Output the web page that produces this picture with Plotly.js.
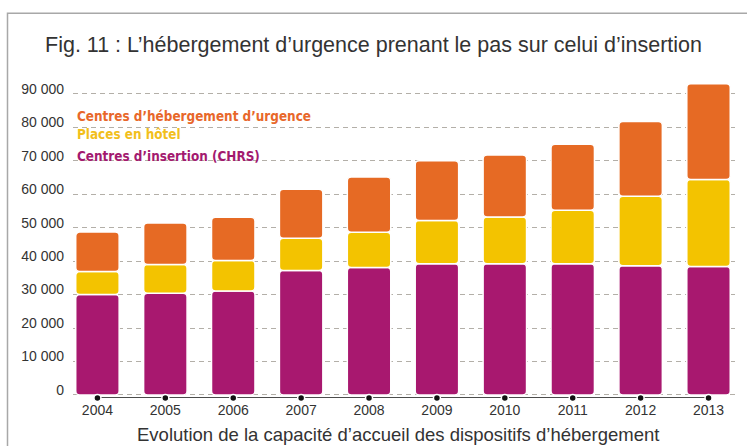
<!DOCTYPE html>
<html>
<head>
<meta charset="utf-8">
<script src="https://cdn.plot.ly/plotly-3.0.1.min.js"></script>
<style>html,body{margin:0;padding:0;background:#fff;}#chart{width:747px;height:446px;}</style>
</head>
<body>
<div id="chart"></div>
<script>
const years = ['2004','2005','2006','2007','2008','2009','2010','2011','2012','2013'];
const chrs = [30000, 30400, 31100, 37200, 38100, 39200, 39200, 39200, 38600, 38400];
const hotel = [6900, 8600, 9100, 9600, 10500, 12900, 14000, 16000, 20800, 26000];
const urgence = [11800, 12400, 12900, 14700, 16500, 17900, 18500, 19700, 22300, 28600];
const seriesNames = ["Centres d’hébergement d’urgence", "Places en hôtel", "Centres d’insertion (CHRS)"];
const yTicks = [0, 10000, 20000, 30000, 40000, 50000, 60000, 70000, 80000, 90000];

const cPurple = '#A8186F', cYellow = '#F3C300', cOrange = '#E66A24';
const base2 = chrs.slice();
const base3 = chrs.map((v, i) => v + hotel[i]);

function barTrace(y, base, color, name) {
  return {type: 'bar', x: years, y: y, base: base, name: name,
    marker: {color: color, cornerradius: 4, line: {color: '#ffffff', width: 1.5}},
    hoverinfo: 'skip'};
}
const traces = [
  barTrace(chrs, years.map(() => 0), cPurple, seriesNames[2]),
  barTrace(hotel, base2, cYellow, seriesNames[1]),
  barTrace(urgence, base3, cOrange, seriesNames[0]),
  {type: 'scatter', mode: 'lines+markers', x: years, y: years.map(() => -900),
   line: {color: '#111', width: 1.5},
   marker: {color: '#111', size: 7, line: {color: '#fff', width: 1.5}},
   cliponaxis: false, hoverinfo: 'skip', showlegend: false}
];

const F = 'Liberation Sans, Arial, sans-serif';
const FL = 'DejaVu Sans Condensed, Liberation Sans Narrow, sans-serif';
const layout = {
  width: 747, height: 446,
  margin: {l: 73, r: 12, t: 77, b: 48},
  paper_bgcolor: '#fff', plot_bgcolor: '#fff',
  separators: ', ',
  barmode: 'overlay', bargap: 0.36,
  showlegend: false,
  title: {text: 'Fig. 11 : L’hébergement d’urgence prenant le pas sur celui d’insertion',
    font: {family: F, size: 21.5, color: '#333'}, x: 0.5, xanchor: 'center',
    y: 1 - 44/446, yref: 'container', yanchor: 'middle'},
  xaxis: {type: 'category', range: [-0.36, 9.39], showgrid: false, zeroline: false, showline: false,
    ticks: '', tickfont: {family: F, size: 14, color: '#333'}, ticklabelstandoff: 2, fixedrange: true},
  yaxis: {range: [-900, 95000], tickvals: yTicks, tickformat: ',d', showgrid: true,
    gridcolor: '#b3afa8', griddash: '5px,4px', gridwidth: 1, zeroline: false, showline: false,
    ticks: '', tickfont: {family: F, size: 14, color: '#333'}, ticklabelstandoff: 8, ticklabelshift: -5},
  annotations: [
    {text: seriesNames[0], xref: 'paper', yref: 'paper', x: 0.003, y: (397-116)/320,
     xanchor: 'left', yanchor: 'middle', showarrow: false, font: {family: FL, size: 13.4, weight: 'bold', color: '#E8672A'}},
    {text: seriesNames[1], xref: 'paper', yref: 'paper', x: 0.003, y: (397-134)/320,
     xanchor: 'left', yanchor: 'middle', showarrow: false, font: {family: FL, size: 13.4, weight: 'bold', color: '#F2BF1C'}},
    {text: seriesNames[2], xref: 'paper', yref: 'paper', x: 0.003, y: (397-156)/320,
     xanchor: 'left', yanchor: 'middle', showarrow: false, font: {family: FL, size: 13.4, weight: 'bold', color: '#A3196F'}},
    {text: 'Evolution de la capacité d’accueil des dispositifs d’hébergement', xref: 'paper', yref: 'paper',
     x: (398-73)/662, y: (397-433)/320, xanchor: 'center', yanchor: 'middle', showarrow: false,
     font: {family: F, size: 18.5, color: '#333'}}
  ],
  shapes: [
    {type: 'path', xref: 'paper', yref: 'paper',
     path: 'M ' + ((7.5-73)/662) + ' ' + ((397-450)/320) + ' L ' + ((7.5-73)/662) + ' ' + ((397-13.5)/320) +
           ' L ' + ((750-73)/662) + ' ' + ((397-13.5)/320),
     line: {color: '#a8a8a8', width: 1.5}, layer: 'below'}
  ]
};
Plotly.newPlot('chart', traces, layout, {displayModeBar: false, staticPlot: true});
</script>
</body>
</html>
